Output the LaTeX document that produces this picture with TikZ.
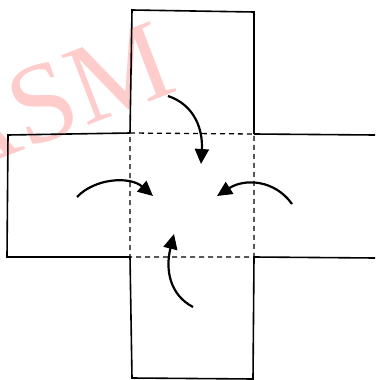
\documentclass[tikz,border=0pt]{standalone}
\usepackage{fontspec}
\setmainfont{Liberation Serif}
\usetikzlibrary{arrows.meta}
\begin{document}
\begin{tikzpicture}[x=1pt,y=-1pt,
  flap/.style={line width=1.6pt},
  fold/.style={line width=1.3pt,dash pattern=on 5pt off 4pt},
  turn/.style={line width=2.2pt,-{Triangle[length=15pt,width=14pt]}}]
\useasboundingbox (0,0) rectangle (375,380);
\node[text=red!20,font=\fontsize{114}{114}\selectfont,rotate=21,anchor=center] (wm) at (52,100) {ASM};
% central square corners
\coordinate (a) at (130,133);
\coordinate (b) at (254,134);
\coordinate (c) at (254,257);
\coordinate (d) at (130,257);
\draw[fold] (a) -- (b) -- (c) -- (d) -- cycle;
% flaps
\draw[flap] (a) -- (132,10) -- (254,12) -- (b);
\draw[flap] (a) -- (8,135) -- (7,257) -- (d);
\draw[flap] (b) -- (375,135);
\draw[flap] (c) -- (375,258);
\draw[flap] (d) -- (132,378) -- (253,379) -- (c);
% arrows
\draw[turn] (168,96) .. controls (195,105) and (203,130) .. (201,164);
\draw[turn] (77,197) .. controls (95,178) and (130,176) .. (153,196);
\draw[turn] (292,204) .. controls (275,180) and (245,178) .. (217,196);
\draw[turn] (193,307) .. controls (170,295) and (165,270) .. (174,234);
\end{tikzpicture}
\end{document}
